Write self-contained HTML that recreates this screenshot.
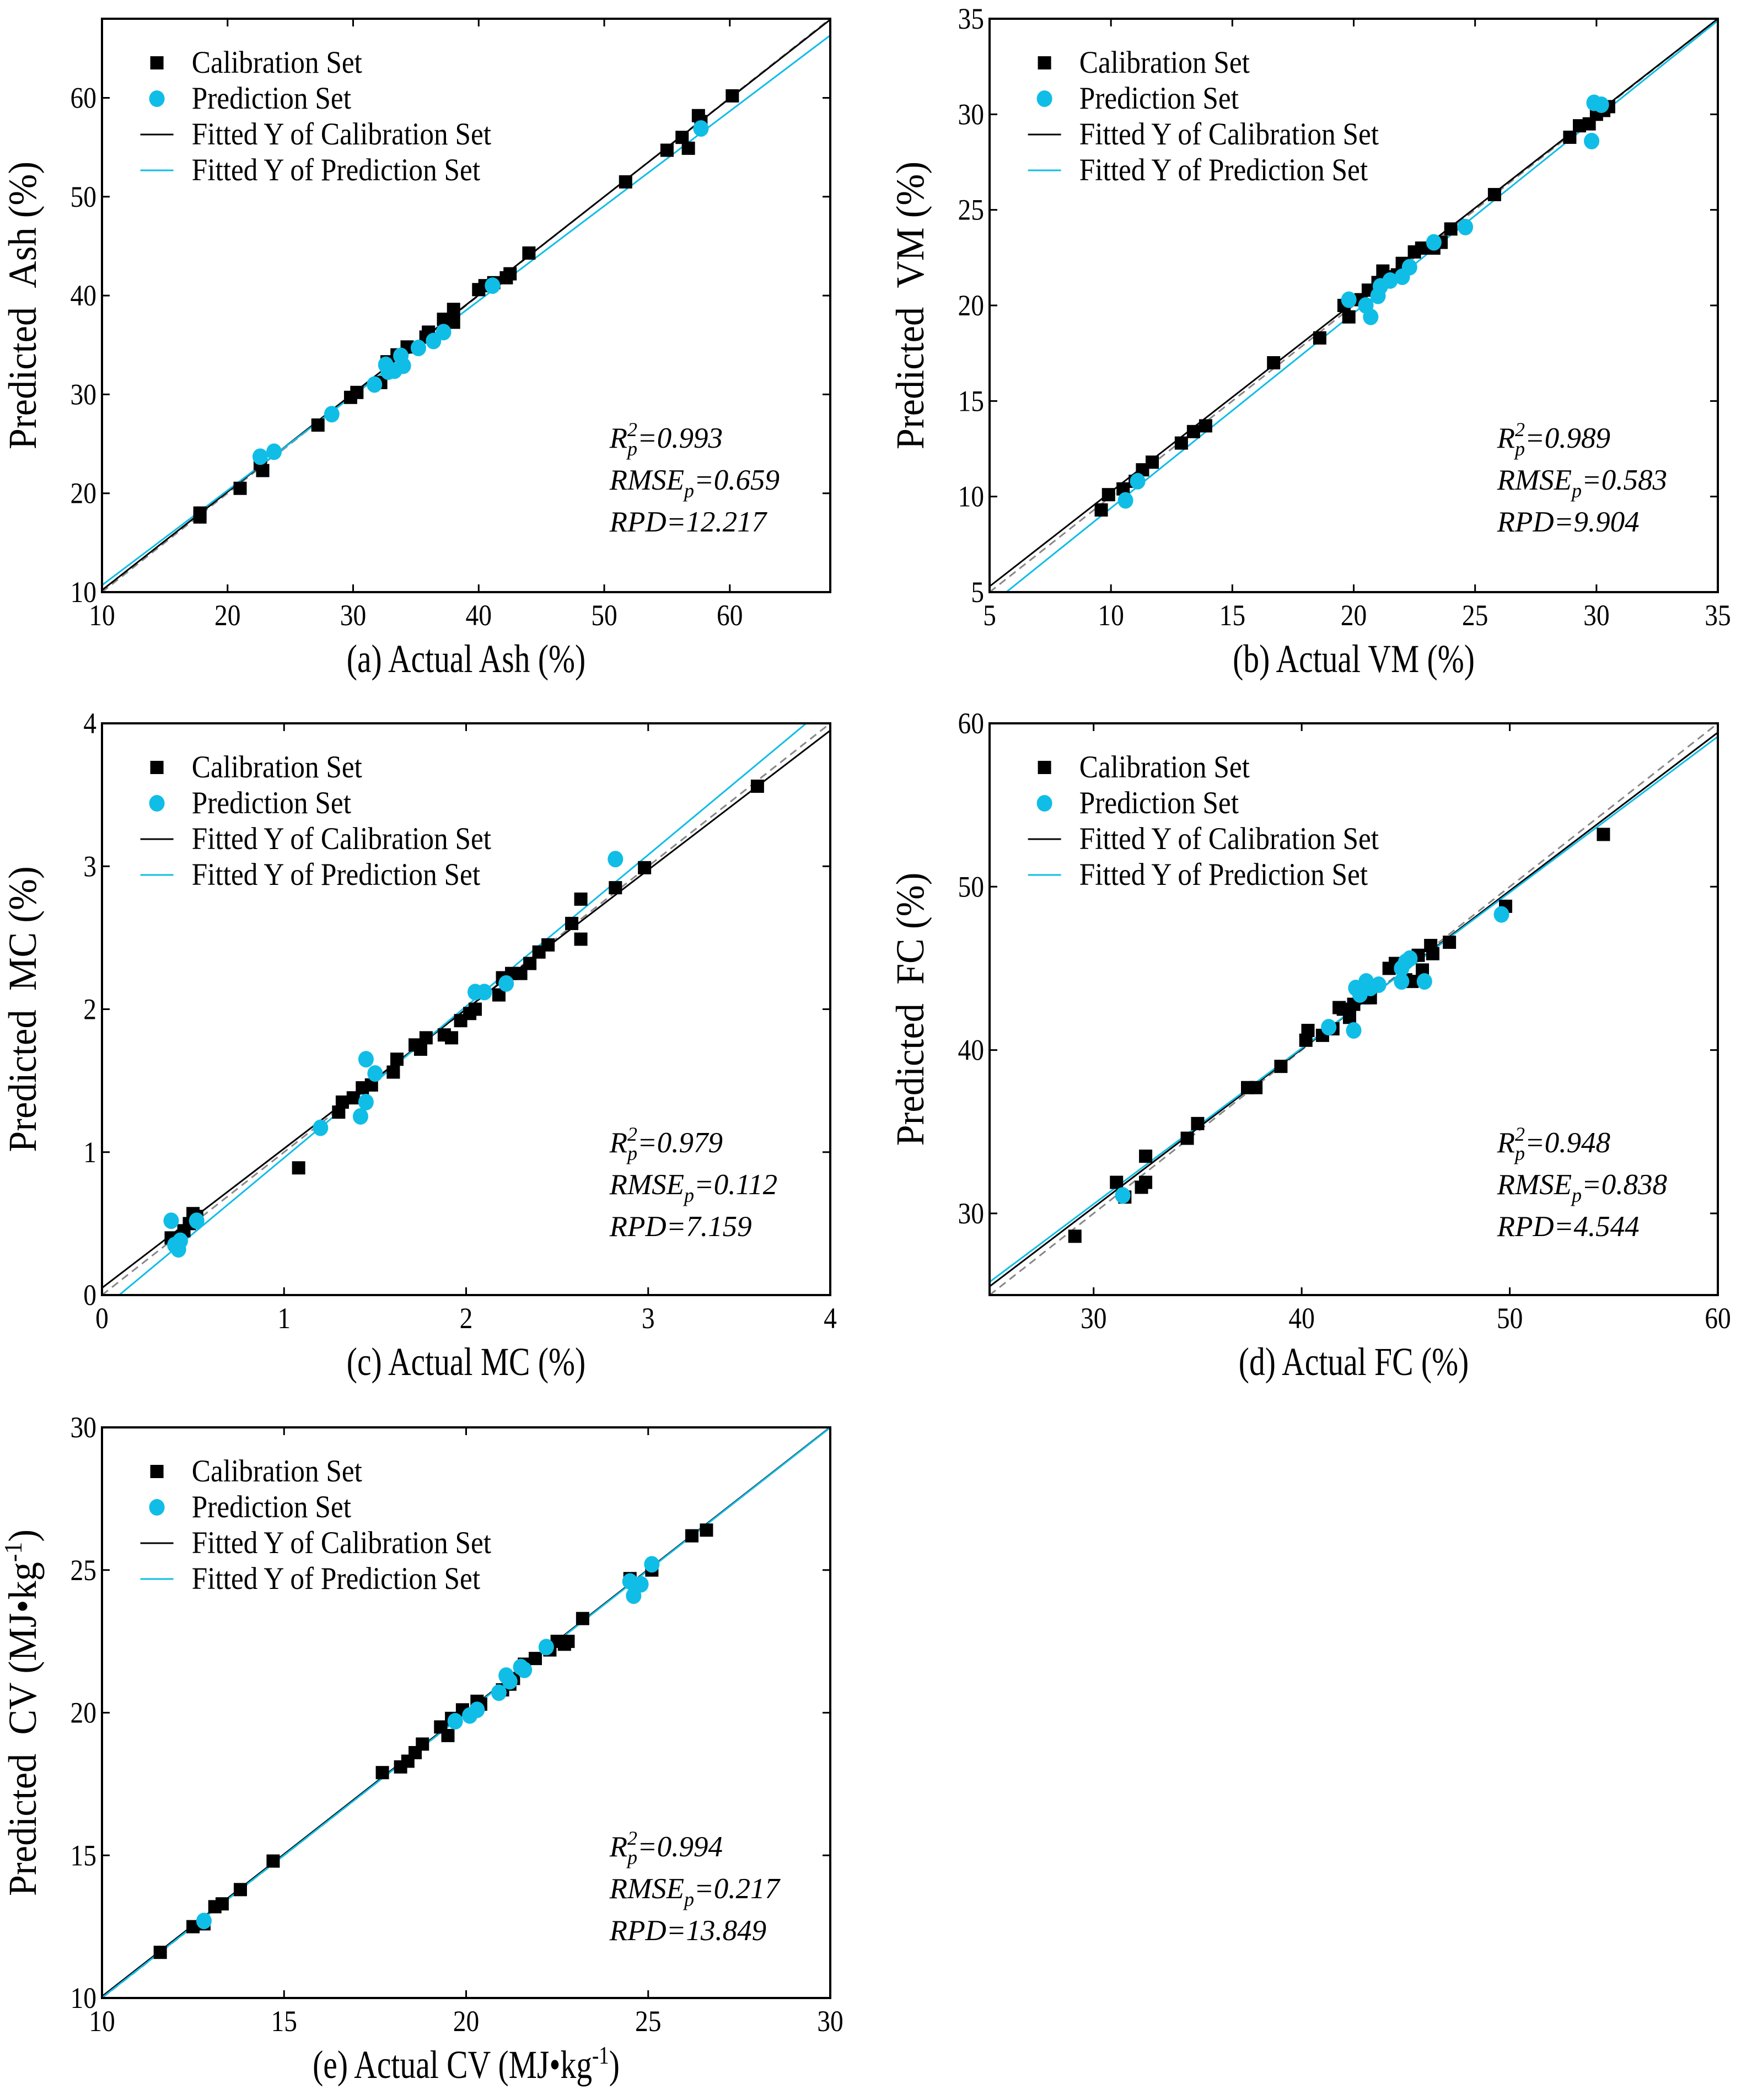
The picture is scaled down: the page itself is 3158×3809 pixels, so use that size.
<!DOCTYPE html>
<html><head><meta charset="utf-8">
<style>
html,body{margin:0;padding:0;background:#fff;}
svg{display:block;font-family:"Liberation Serif",serif;}
</style></head>
<body>
<svg id="chart" width="3158" height="3809" viewBox="0 0 3158 3809" xmlns="http://www.w3.org/2000/svg"></svg>
<script>
// ---- data arrays ----
const ashCalX=[17.8,17.8,21,22.8,22.6,27.2,29.8,30.3,32.2,32.7,33.5,34.3,35.8,36,37.2,38,38,40,40.5,41.2,42.2,42.5,44,51.7,55,56.2,56.7,57.5,57.7,60.2];
const ashCalY=[17.6,18,20.5,22.3,23,26.9,29.7,30.2,31.2,33.3,34,34.8,35.8,36.3,37.6,38.6,37.3,40.6,41,41.3,41.8,42.2,44.3,51.5,54.7,56,54.9,58.2,57.6,60.2];
const ashPreX=[22.6,23.7,28.3,31.7,32.6,32.8,33.3,33.8,34,35.2,36.4,37.2,41.1,57.7];
const ashPreY=[23.7,24.2,28,31,33,32.3,32.4,33.9,32.9,34.7,35.4,36.3,41,56.9];
const vmCalX=[9.6,9.9,10.5,11,11.3,11.7,12.9,13.4,13.9,16.7,18.6,19.6,19.8,20.3,20.6,21,21.2,21.5,21.8,22,22.5,22.8,23.3,23.6,24,25.8,28.9,29.3,29.7,30,30.3,30.5];
const vmCalY=[9.3,10.1,10.4,10.8,11.4,11.8,12.8,13.4,13.7,17,18.3,20,19.4,20.3,20.8,21.2,21.8,21.5,21.6,22.2,22.8,23,23,23.3,24,25.8,28.8,29.4,29.5,30,30.2,30.4];
const vmPreX=[10.6,11.1,19.8,20.5,20.7,21,21.1,21.5,22,22.3,23.3,24.6,29.8,29.9,30.2];
const vmPreY=[9.8,10.8,20.3,20,19.4,20.5,21,21.3,21.5,22,23.3,24.1,28.6,30.6,30.5];
const mcCalX=[0.38,0.45,0.48,0.5,0.52,1.08,1.3,1.32,1.38,1.43,1.48,1.6,1.62,1.72,1.75,1.78,1.88,1.92,1.97,2.02,2.05,2.18,2.2,2.25,2.3,2.35,2.4,2.45,2.58,2.63,2.63,2.82,2.98,3.6];
const mcCalY=[0.4,0.45,0.5,0.57,0.55,0.89,1.28,1.35,1.38,1.45,1.47,1.56,1.65,1.75,1.72,1.8,1.82,1.8,1.92,1.97,2.0,2.1,2.22,2.25,2.25,2.32,2.4,2.45,2.6,2.77,2.49,2.85,2.99,3.56];
const mcPreX=[0.38,0.4,0.42,0.43,0.52,1.2,1.42,1.45,1.45,1.5,2.05,2.1,2.22,2.82];
const mcPreY=[0.52,0.35,0.32,0.38,0.52,1.17,1.25,1.35,1.65,1.55,2.12,2.12,2.18,3.05];
const fcCalX=[29.1,31.1,31.5,32.3,32.5,32.5,34.5,35,37.4,37.8,39,40.2,40.3,41,41.5,41.8,42,42.3,42.5,43,43.3,44.2,44.5,45,45.3,45.6,45.8,46.2,46.3,47.1,49.8,54.5];
const fcCalY=[28.6,31.9,31,31.6,31.9,33.5,34.6,35.5,37.7,37.7,39,40.6,41.2,40.9,41.3,42.6,42.5,42,42.8,43.2,43.2,45,45.3,44.3,44.2,45.8,44.9,46.4,45.9,46.6,48.8,53.2];
const fcPreX=[31.4,41.3,42.5,42.6,42.8,43.1,43.3,43.7,44.8,44.8,45,45.2,45.9,49.6];
const fcPreY=[31.1,41.4,41.2,43.8,43.4,44.2,43.8,44,44.2,45.0,45.4,45.6,44.2,48.3];
const cvCalX=[11.6,12.5,12.8,13.1,13.3,13.8,14.7,17.7,18.2,18.4,18.6,18.8,19.3,19.5,19.6,19.9,20.3,20.4,21,21.2,21.3,21.6,21.9,22.3,22.5,22.7,22.8,23.2,24.5,25.1,26.2,26.6];
const cvCalY=[11.6,12.5,12.6,13.2,13.3,13.8,14.8,17.9,18.1,18.3,18.6,18.9,19.5,19.2,19.8,20.1,20.4,20.3,20.8,21,21.2,21.7,21.9,22.2,22.5,22.4,22.5,23.3,24.7,25,26.2,26.4];
const cvPreX=[12.8,19.7,20.1,20.3,20.9,21.1,21.2,21.5,21.6,22.2,24.5,24.6,24.8,25.1];
const cvPreY=[12.7,19.7,19.9,20.1,20.7,21.3,21.1,21.6,21.5,22.3,24.6,24.1,24.5,25.2];
// fit lines: [slope, intercept]
const ashFits=[[0.995,0.25],[0.959,1.11]];
const vmFits=[[0.99,0.35],[1.02,-0.8]];
const mcFits=[[0.975,0.05],[1.06,-0.1]];
const fcFits=[[0.969,1.3],[0.954,1.95]];
const cvFits=[[0.9975,0.08],[0.999,0.02]];
const ashTicks=[10,20,30,40,50,60];
const vmTicks=[5,10,15,20,25,30,35];
const mcTicks=[0,1,2,3,4];
const fcTicks=[30,40,50,60];
const cvTicks=[10,15,20,25,30];
const statsA=["0.993","0.659","12.217"];
const statsB=["0.989","0.583","9.904"];
const statsC=["0.979","0.112","7.159"];
const statsD=["0.948","0.838","4.544"];
const statsE=["0.994","0.217","13.849"];

const NS="http://www.w3.org/2000/svg";
const root=document.getElementById('chart');
function mk(tag,attrs,parent){const e=document.createElementNS(NS,tag);for(const k in attrs)e.setAttribute(k,attrs[k]);(parent||root).appendChild(e);return e;}
function stext(parent,x,y,sx,size,anchor,extra){
  const a={x:0,y:0,'font-size':size,'text-anchor':anchor||'start',transform:`translate(${x},${y}) scale(${sx},1)`};
  if(extra)for(const k in extra)a[k]=extra[k];
  return mk('text',a,parent);
}
const CYAN="#10bde6";

function panel(id,L,T,R,B,min,max,ticks,cx,cy,px,py,fits,stats,xtitle,ytitle){
  const g=mk('g',{});
  
  
  const sx=v=>L+(v-min)/(max-min)*(R-L);
  const sy=v=>B-(v-min)/(max-min)*(B-T);
  const clip=mk('clipPath',{id:'clip'+id},g);
  mk('rect',{x:L,y:T,width:R-L,height:B-T},clip);
  ticks.forEach(t=>{
    const x=sx(t),y=sy(t);
    const tk=mk('path',{d:`M${x},${B}v-14M${x},${T}v14M${L},${y}h14M${R},${y}h-14`,stroke:'#000','stroke-width':3},g);
    
    
    const xl=stext(g,x,B+60,0.88,54,'middle');xl.textContent=t;
    
    
    const yl=stext(g,L-10,y+18,0.88,54,'end');yl.textContent=t;
    
    
  });
  const lg=mk('g',{'clip-path':`url(#clip${id})`},g);
  const idl=mk('line',{x1:sx(min),y1:sy(min),x2:sx(max),y2:sy(max),stroke:'#888','stroke-width':3,'stroke-dasharray':'14,9'},lg);
  
  
  const cols=['#000',CYAN];
  fits.forEach((f,i)=>{
    const l=mk('line',{x1:sx(min),y1:sy(f[0]*min+f[1]),x2:sx(max),y2:sy(f[0]*max+f[1]),stroke:cols[i],'stroke-width':3},lg);
    
    
  });
  cx.forEach((v,i)=>{
    const r=mk('rect',{x:sx(v)-12,y:sy(cy[i])-12,width:24,height:24,fill:'#000'},lg);
    
    
  });
  px.forEach((v,i)=>{
    const c=mk('ellipse',{cx:sx(v),cy:sy(py[i]),rx:14,ry:15,fill:CYAN},lg);
    
    
  });
  const fr=mk('rect',{x:L,y:T,width:R-L,height:B-T,fill:'none',stroke:'#000','stroke-width':4},g);
  
  
  const leg=mk('g',{},g);
  
  
  const names=['Calibration Set','Prediction Set','Fitted Y of Calibration Set','Fitted Y of Prediction Set'];
  const mx=L+(117-76)*2.429;
  names.forEach((n,i)=>{
    const yy=T+[80,145,210,275][i];
    if(i==0)mk('rect',{x:mx-12,y:yy-12,width:24,height:24,fill:'#000'},leg);
    if(i==1)mk('ellipse',{cx:mx,cy:yy,rx:14,ry:15,fill:CYAN},leg);
    if(i>=2)mk('line',{x1:mx-30,y1:yy,x2:mx+30,y2:yy,stroke:i==2?'#000':CYAN,'stroke-width':3},leg);
    const t=stext(leg,L+(143-76)*2.429,yy+18,0.9,57,'start');t.textContent=n;
    
    
  });
  const st=mk('g',{'font-style':'italic','font-size':53},g);
  
  
  const sx0=L+(455-76)*2.429;
  const t1=mk('text',{x:sx0,y:T+778},st);
  t1.innerHTML=`R<tspan font-size="36" dy="-21">2</tspan><tspan font-size="36" dx="-18" dy="35">p</tspan><tspan dy="-14">=${stats[0]}</tspan>`;
  const t2=mk('text',{x:sx0,y:T+854},st);
  t2.innerHTML=`RMSE<tspan font-size="36" dy="14">p</tspan><tspan dy="-14">=${stats[1]}</tspan>`;
  const t3=mk('text',{x:sx0,y:T+930},st);t3.textContent='RPD='+stats[2];
  const xt=stext(g,(L+R)/2,B+145,0.8,72,'middle');
  xt.innerHTML=xtitle;
  
  
  const cyy=(T+B)/2;
  const yt=mk('text',{x:0,y:0,'font-size':72,'text-anchor':'middle',transform:`translate(${L-120},${cyy}) rotate(-90) scale(0.95,1)`},g);
  yt.innerHTML=ytitle;
  
  
}
panel('a',185,34,1506,1074,10,68,ashTicks,ashCalX,ashCalY,ashPreX,ashPreY,ashFits,statsA,'(a) Actual Ash (%)','Predicted&#160;&#160;Ash (%)');
panel('b',1795,34,3116,1074,5,35,vmTicks,vmCalX,vmCalY,vmPreX,vmPreY,vmFits,statsB,'(b) Actual VM (%)','Predicted&#160;&#160;VM (%)');
panel('c',185,1312,1506,2349,0,4,mcTicks,mcCalX,mcCalY,mcPreX,mcPreY,mcFits,statsC,'(c) Actual MC (%)','Predicted&#160;&#160;MC (%)');
panel('d',1795,1312,3116,2349,25,60,fcTicks,fcCalX,fcCalY,fcPreX,fcPreY,fcFits,statsD,'(d) Actual FC (%)','Predicted&#160;&#160;FC (%)');
panel('e',185,2589,1506,3624,10,30,cvTicks,cvCalX,cvCalY,cvPreX,cvPreY,cvFits,statsE,'(e) Actual CV (MJ•kg<tspan font-size="46" dy="-26">-1</tspan><tspan dy="26">)</tspan>','Predicted&#160;&#160;CV (MJ•kg<tspan font-size="46" dy="-26">-1</tspan><tspan dy="26">)</tspan>');
</script>
</body></html>
